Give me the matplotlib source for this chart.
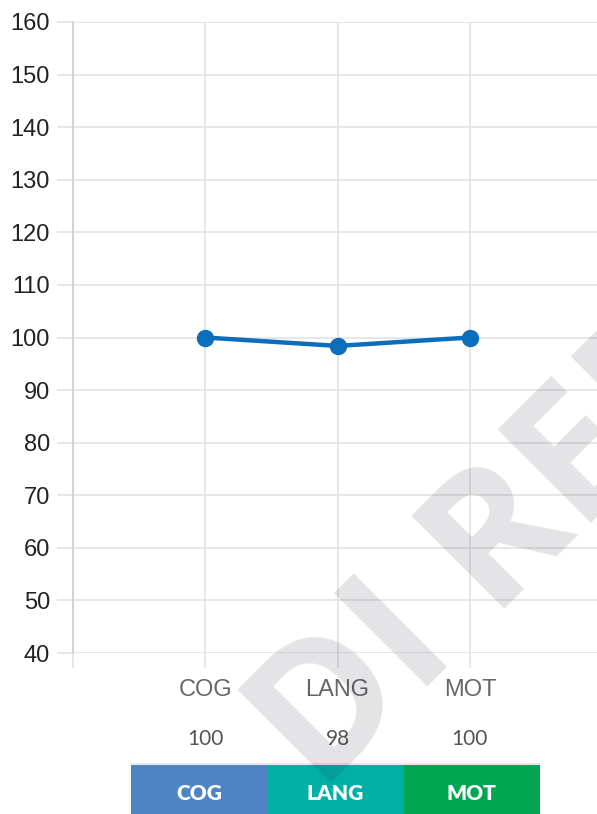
import matplotlib
matplotlib.use("Agg")
import matplotlib.pyplot as plt
import matplotlib.transforms as mtransforms

# ---- data ----
categories = ["COG", "LANG", "MOT"]
scores = [100, 98.4, 100]
score_labels = ["100", "98", "100"]
cell_colors = ["#4f84c4", "#00b0a6", "#00a650"]
y_ticks = list(range(40, 161, 10))
watermark = "DI REFERTO"

W, H = 597, 814
fig = plt.figure(figsize=(W / 100, H / 100), dpi=100)

def fx(px):
    return px / W

def fy(py):
    return 1 - py / H

# main axes
ax_left, ax_top, ax_bottom = 73, 22, 653
ax = fig.add_axes([fx(ax_left), fy(ax_bottom), 1 - fx(ax_left), (ax_bottom - ax_top) / H])
x_pos = list(range(1, len(categories) + 1))
ax.set_xlim(0, (W - ax_left) / 132.3)
ax.set_ylim(40, 160)

grid_c = "#e3e3e3"
ax.set_yticks(y_ticks)
ax.set_yticklabels([str(v) for v in y_ticks], fontsize=17, color="#222222",
                   family=["Liberation Sans", "DejaVu Sans"])
ax.set_xticks([0] + x_pos)
ax.set_xticklabels([""] + categories, fontsize=17, color="#666666",
                   family=["Liberation Sans", "DejaVu Sans"])
ax.tick_params(axis="y", length=11.5, width=1.2, color=grid_c, pad=5)
ax.tick_params(axis="x", length=11, width=1.2, color=grid_c, pad=8)
ax.grid(True, color=grid_c, linewidth=1.2)
ax.set_axisbelow(True)
for s in ["top", "right", "bottom"]:
    ax.spines[s].set_visible(False)
ax.spines["left"].set_color("#d0d0d0")
ax.spines["left"].set_linewidth(1.3)

ax.plot(x_pos, scores, color="#0a6ebd", linewidth=3.2, marker="o",
        markersize=11.5, zorder=5, clip_on=False)

# values row
trans = mtransforms.blended_transform_factory(ax.transData, fig.transFigure)
for xp, lab in zip(x_pos, score_labels):
    ax.text(xp, fy(739), lab, transform=trans, ha="center", va="center",
            fontsize=15, color="#555555", family=["Lato", "DejaVu Sans"])

# table of coloured cells
tab = fig.add_axes([fx(131), fy(822), fx(540) - fx(131), (822 - 765) / H])
tab.set_xlim(0, len(categories))
tab.set_ylim(0, 1)
tab.bar([i + 0.5 for i in range(len(categories))], [1] * len(categories),
        width=1.0, color=cell_colors, linewidth=0)
for i, c in enumerate(categories):
    tab.text(i + 0.5, 0.5, c, ha="center", va="center", color="white",
             fontsize=15, fontweight="heavy", family=["Lato", "DejaVu Sans"])
tab.axis("off")
fig.add_artist(plt.Line2D([fx(131), fx(540)], [fy(764), fy(764)],
                          color="#e8e8e8", linewidth=1.5))

# watermark
fig.text(fx(320), fy(795), watermark, rotation=45, rotation_mode="anchor",
         ha="left", va="baseline", fontsize=133, fontweight="bold",
         family=["Open Sans", "DejaVu Sans"], color=(0.11, 0.13, 0.2),
         alpha=0.12, zorder=10)

fig.savefig("out.png", dpi=100)
